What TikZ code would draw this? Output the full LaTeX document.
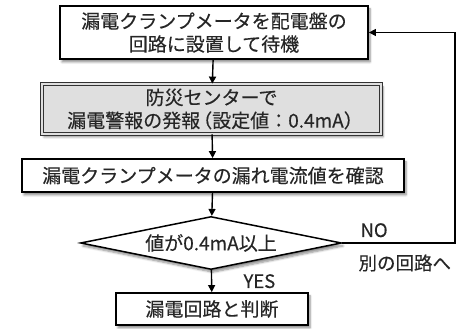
\documentclass[tikz,border=0pt]{standalone}
\usepackage{fontspec}
\setmainfont{Noto Sans CJK JP}[FakeBold=0.3]
\usetikzlibrary{shapes.geometric,arrows.meta,shadows.blur}
\begin{document}
\begin{tikzpicture}[x=1pt,y=1pt,
  every node/.style={font=\fontsize{19pt}{23pt}\selectfont, text=black!85},
  flowbox/.style={draw=black, line width=1.8pt, fill=white, inner sep=0pt, align=center,
     blur shadow={shadow xshift=2pt, shadow yshift=-3pt, shadow blur steps=6, shadow opacity=45}},
  graybox/.style={draw=black!80, line width=0.8pt, double=gray!25, double distance=2pt, fill=gray!25,
     inner sep=0pt, align=center,
     blur shadow={shadow xshift=2pt, shadow yshift=-3pt, shadow blur steps=6, shadow opacity=45}},
  decision/.style={diamond, draw=black, line width=1.5pt, fill=white, inner sep=0pt, aspect=4.9,
     blur shadow={shadow xshift=2pt, shadow yshift=-3pt, shadow blur steps=6, shadow opacity=45}},
  conn/.style={line width=1.4pt, -{Triangle[length=7pt,width=7pt]}},
  lbl/.style={anchor=base west, font=\fontsize{18.5pt}{20pt}\selectfont}
]
\useasboundingbox (0,0) rectangle (469,329);
\node[flowbox, minimum width=308pt, minimum height=53pt] (b1) at (214,296.5)
  {漏電クランプメータを配電盤の\\回路に設置して待機};
\node[graybox, minimum width=339pt, minimum height=50pt] (b2) at (211.5,220)
  {防災センターで\\漏電警報の発報\kern-7pt（設定値：0.4mA）\kern-7pt};
\node[flowbox, minimum width=382pt, minimum height=33pt] (b3) at (213,153.5)
  {漏電クランプメータの漏れ電流値を確認};
\node[decision, minimum width=261pt, minimum height=53pt] (d) at (211,86)
  {値が0.4mA以上};
\node[flowbox, minimum width=192pt, minimum height=32pt] (b4) at (212,20)
  {漏電回路と判断};
\coordinate (r) at (455,86);
\draw[conn] (b1) -- (b2);
\draw[conn] (b2) -- (b3);
\draw[conn] (b3) -- (d);
\draw[conn] (d) -- (b4);
\draw[conn] (d.east) -- (r) |- (b1.east);
\node[lbl] (no) at (357,92) {NO};
\node[lbl] (betsu) at (355,59) {別の回路へ};
\node[lbl] (yes) at (240,41) {YES};
\end{tikzpicture}
\end{document}
